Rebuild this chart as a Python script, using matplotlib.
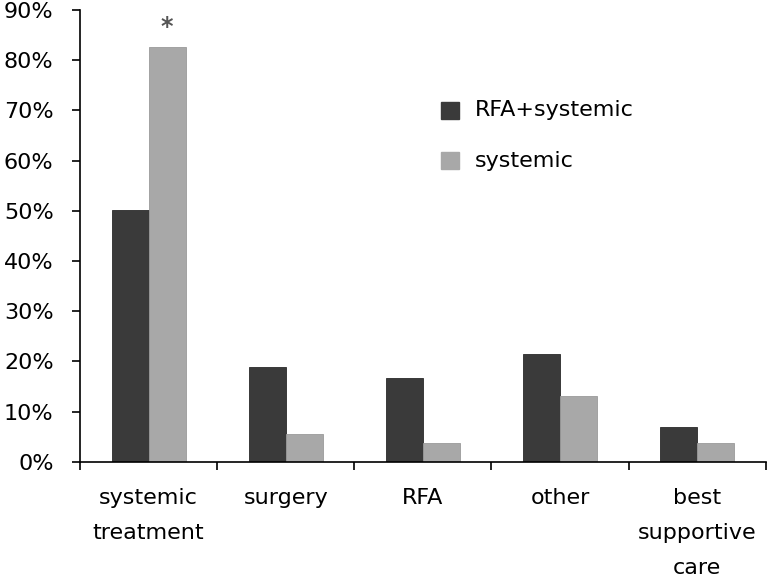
import matplotlib
matplotlib.use("Agg")
import matplotlib.pyplot as plt
import numpy as np
from matplotlib.patches import Rectangle

categories = ["systemic\ntreatment", "surgery", "RFA", "other", "best\nsupportive\ncare"]
rfa_systemic = [50.1, 18.9, 16.6, 21.4, 6.9]
systemic = [82.7, 5.6, 3.8, 13.0, 3.8]
series_names = ["RFA+systemic", "systemic"]
yticks = [0, 10, 20, 30, 40, 50, 60, 70, 80, 90]

plt.rcParams['font.family'] = ['DejaVu Sans']
dark = "#3a3a3a"
light = "#a8a8a8"

fig = plt.figure(figsize=(7.72, 5.81), dpi=100)
ax = fig.add_axes([0.1036, 0.2053, 0.8884, 0.7775])

x = np.arange(len(categories))
w = 0.27
ax.bar(x - w / 2, rfa_systemic, w, color=dark, edgecolor="#2a2a2a", linewidth=0.6)
ax.bar(x + w / 2, systemic, w, color=light, edgecolor="#9a9a9a", linewidth=0.6)

ax.set_xlim(-0.5, len(categories) - 0.5)
ax.set_ylim(0, 90)
ax.set_yticks(yticks)
ax.set_yticklabels([f"{t}%" for t in yticks], fontsize=16)
ax.tick_params(axis="y", direction="out", length=6, width=1.2, pad=13)

ax.set_xticks(np.arange(len(categories) + 1) - 0.5)
ax.set_xticklabels([])
ax.tick_params(axis="x", direction="out", length=6, width=1.2)
for i, c in enumerate(categories):
    ax.text(i, -5.2, c, ha="center", va="top", fontsize=16, linespacing=1.95)

for s in ["top", "right"]:
    ax.spines[s].set_visible(False)
for s in ["left", "bottom"]:
    ax.spines[s].set_linewidth(1.2)

# significance marker
ax.text(x[0] + w / 2, systemic[0] + 4.0, "*", ha="center", va="center",
        fontsize=17, fontweight="bold", color="#555555")

# legend
for j, (name, col) in enumerate(zip(series_names, [dark, light])):
    yy = 70.0 - 10.0 * j
    ax.add_patch(Rectangle((2.13, yy - 1.7), 0.13, 3.4, color=col, clip_on=False))
    ax.text(2.38, yy, name, ha="left", va="center", fontsize=16)

fig.savefig("out.png", dpi=100)
